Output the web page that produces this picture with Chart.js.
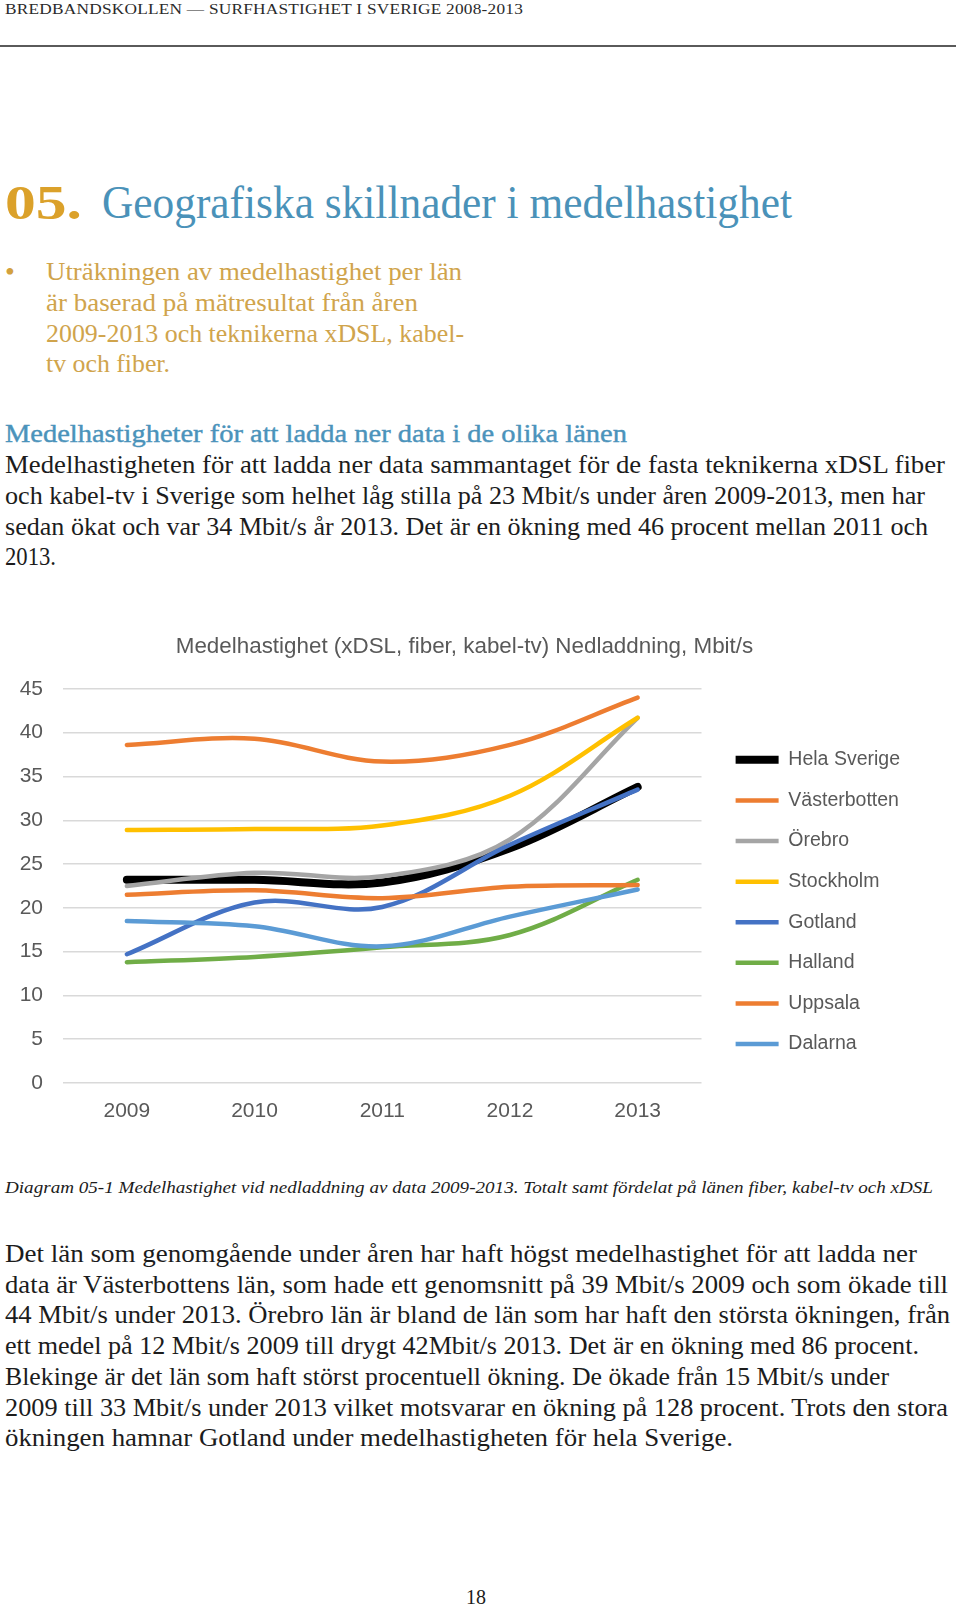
<!DOCTYPE html>
<html lang="sv">
<head>
<meta charset="utf-8">
<title>Bredbandskollen – Surfhastighet i Sverige 2008-2013</title>
<script src="https://cdn.jsdelivr.net/npm/chart.js@4.4.1/dist/chart.umd.min.js"></script>
<style>
  html, body { margin: 0; padding: 0; background: #fff; }
  body {
    width: 960px; height: 1607px; position: relative; overflow: hidden;
    font-family: "Liberation Serif", "DejaVu Serif", serif; color: #1c1c1c;
  }
  .ln { position: absolute; white-space: nowrap; line-height: 1; transform-origin: 0 0; }
  .head { font-size: 15px; color: #2a2a2a; letter-spacing: 0.2px; }
  .rule { position: absolute; left: 0; top: 45px; width: 956px; height: 2px; background: #5a5a5a; }
  .num { font-size: 48px; font-weight: bold; color: #dba12a; }
  .title { font-size: 46px; color: #4a92b9; }
  .bullet { font-size: 25px; color: #d0a44c; }
  .dot { font-size: 28px; color: #d3a13e; }
  .sub { font-size: 25px; color: #4b93bb; -webkit-text-stroke: 0.4px #4b93bb; }
  .body { font-size: 24.5px; color: #1c1c1c; }
  .cap { font-size: 17px; font-style: italic; color: #1c1c1c; }
  .page { font-size: 20px; color: #1c1c1c; }
  #chartBox { position: absolute; left: 0; top: 610px; width: 920px; height: 529px; }
</style>
</head>
<body>

<div class="ln head" data-w="518" style="left:5px; top:2px;">BREDBANDSKOLLEN — SURFHASTIGHET I SVERIGE 2008-2013</div>
<div class="rule"></div>

<div class="ln num" data-w="77" style="left:5px; top:179px;">05.</div>
<div class="ln title" data-w="690" style="left:102px; top:180px;">Geografiska skillnader i medelhastighet</div>

<div class="ln dot" style="left:5px; top:258px;">•</div>
<div class="ln bullet" data-w="416" style="left:46px; top:259px;">Uträkningen av medelhastighet per län</div>
<div class="ln bullet" data-w="372" style="left:46px; top:290px;">är baserad på mätresultat från åren</div>
<div class="ln bullet" data-w="418" style="left:46px; top:321px;">2009-2013 och teknikerna xDSL, kabel-</div>
<div class="ln bullet" data-w="124" style="left:46px; top:351px;">tv och fiber.</div>

<div class="ln sub" data-w="622" style="left:5px; top:421px;">Medelhastigheter för att ladda ner data i de olika länen</div>
<div class="ln body" data-w="940" style="left:5px; top:453px;">Medelhastigheten för att ladda ner data sammantaget för de fasta teknikerna xDSL fiber</div>
<div class="ln body" data-w="920" style="left:5px; top:484px;">och kabel-tv i Sverige som helhet låg stilla på 23 Mbit/s under åren 2009-2013, men har</div>
<div class="ln body" data-w="923" style="left:5px; top:515px;">sedan ökat och var 34 Mbit/s år 2013. Det är en ökning med 46 procent mellan 2011 och</div>
<div class="ln body" data-w="51" style="left:5px; top:545px;">2013.</div>

<div id="chartBox"><canvas id="chart" width="920" height="529"></canvas></div>

<div class="ln cap" data-w="928" style="left:5px; top:1179px;">Diagram 05-1 Medelhastighet vid nedladdning av data 2009-2013. Totalt samt fördelat på länen fiber, kabel-tv och xDSL</div>

<div class="ln body" data-w="912" style="left:5px; top:1242px;">Det län som genomgående under åren har haft högst medelhastighet för att ladda ner</div>
<div class="ln body" data-w="943" style="left:5px; top:1273px;">data är Västerbottens län, som hade ett genomsnitt på 39 Mbit/s 2009 och som ökade till</div>
<div class="ln body" data-w="945" style="left:5px; top:1303px;">44 Mbit/s under 2013. Örebro län är bland de län som har haft den största ökningen, från</div>
<div class="ln body" data-w="914" style="left:5px; top:1334px;">ett medel på 12 Mbit/s 2009 till drygt 42Mbit/s 2013. Det är en ökning med 86 procent.</div>
<div class="ln body" data-w="884" style="left:5px; top:1365px;">Blekinge är det län som haft störst procentuell ökning. De ökade från 15 Mbit/s under</div>
<div class="ln body" data-w="943" style="left:5px; top:1396px;">2009 till 33 Mbit/s under 2013 vilket motsvarar en ökning på 128 procent. Trots den stora</div>
<div class="ln body" data-w="728" style="left:5px; top:1426px;">ökningen hamnar Gotland under medelhastigheten för hela Sverige.</div>

<div class="ln page" style="left:466px; top:1587px;">18</div>

<script>
// chart data
const years = ['2009', '2010', '2011', '2012', '2013'];
const yMin = 0;
const yMax = 45;
const yStep = 5;

const seriesNames = ['Hela Sverige', 'Västerbotten', 'Örebro', 'Stockholm', 'Gotland', 'Halland', 'Uppsala', 'Dalarna'];

const helaSverige  = [23.2, 23.2, 22.9, 26.8, 33.8];
const vasterbotten = [38.6, 39.3, 36.7, 38.6, 44.0];
const orebro       = [22.5, 24.0, 23.6, 27.8, 41.7];
const stockholm    = [28.9, 29.0, 29.4, 32.8, 41.7];
const gotland      = [14.7, 20.6, 20.1, 27.2, 33.5];
const halland      = [13.8, 14.4, 15.5, 16.9, 23.2];
const uppsala      = [21.5, 22.0, 21.1, 22.4, 22.6];
const dalarna      = [18.5, 17.9, 15.6, 19.0, 22.1];

const seriesData = [helaSverige, vasterbotten, orebro, stockholm, gotland, halland, uppsala, dalarna];

// styles
const seriesColors = ['#000000', '#ed7d31', '#a5a5a5', '#ffc000', '#4472c4', '#70ad47', '#ed7d31', '#5b9bd5'];
const seriesWidths = [8, 4.5, 4.5, 4.5, 4.5, 4.5, 4.5, 4.5];
const labelColor = '#595959';
const sansFont = '"Liberation Sans", Arial, sans-serif';

// stretch each text line to the width it has on the page
function fitLines() {
    document.querySelectorAll('[data-w]').forEach(function (el) {
        const w = el.getBoundingClientRect().width;
        const target = parseFloat(el.dataset.w);
        if (w > 0) {
            el.style.transform = 'scaleX(' + (target / w).toFixed(4) + ')';
        }
    });
}
fitLines();

const datasets = seriesNames.map(function (name, i) {
    return {
        label: name,
        data: seriesData[i],
        borderColor: seriesColors[i],
        backgroundColor: seriesColors[i],
        borderWidth: seriesWidths[i],
        borderCapStyle: 'round',
        borderJoinStyle: 'round',
        pointRadius: 0,
        pointHoverRadius: 0,
        tension: 0.35,
        fill: false,
        // first series at the bottom, as in the original
        order: seriesNames.length - 1 - i
    };
});

// move title and legend to where they sit in the original layout
const boxNudge = {
    id: 'boxNudge',
    afterLayout: function (chart) {
        chart.titleBlock.left += 16;
        chart.titleBlock.right += 16;
        chart.legend.left += 13;
        chart.legend.right += 13;
        chart.legend.top += 119;
        chart.legend.bottom += 119;
    }
};

const ctx = document.getElementById('chart').getContext('2d');

const chart = new Chart(ctx, {
    type: 'line',
    data: { labels: years, datasets: datasets },
    options: {
        responsive: false,
        animation: false,
        devicePixelRatio: 1,
        layout: { padding: { left: 0, right: 23, top: 0, bottom: 0 } },
        scales: {
            x: {
                offset: true,
                grid: { display: false, drawTicks: false },
                border: { display: false },
                ticks: { color: labelColor, padding: 15.4, font: { family: sansFont, size: 21 } }
            },
            y: {
                min: yMin,
                max: yMax,
                ticks: { stepSize: yStep, color: labelColor, padding: 20, font: { family: sansFont, size: 21 } },
                grid: { color: '#d9d9d9', lineWidth: 1.5, drawTicks: false },
                border: { display: false },
                afterFit: function (scale) { scale.width = 63; }
            }
        },
        plugins: {
            title: {
                display: true,
                text: 'Medelhastighet (xDSL, fiber, kabel-tv) Nedladdning, Mbit/s',
                color: labelColor,
                font: { family: sansFont, size: 22.4, weight: 'normal' },
                padding: { top: 23, bottom: 29 }
            },
            legend: {
                position: 'right',
                align: 'start',
                labels: {
                    usePointStyle: true,
                    pointStyle: 'line',
                    pointStyleWidth: 43,
                    padding: 21.1,
                    color: labelColor,
                    font: { family: sansFont, size: 19.5 },
                    sort: function (a, b) { return a.datasetIndex - b.datasetIndex; }
                }
            },
            tooltip: { enabled: false }
        }
    },
    plugins: [boxNudge]
});
</script>
</body>
</html>
